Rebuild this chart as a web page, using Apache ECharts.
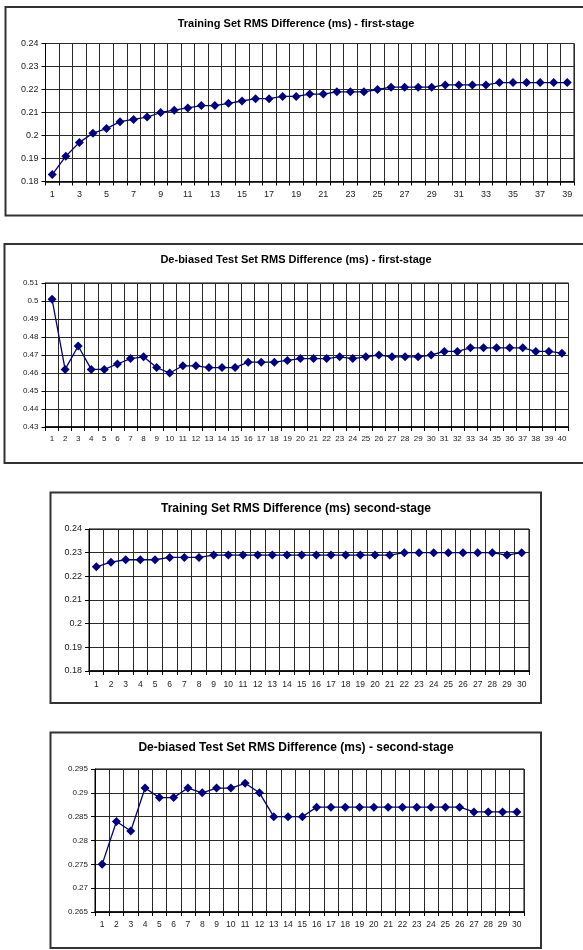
<!DOCTYPE html>
<html><head><meta charset="utf-8">
<script src="https://cdn.jsdelivr.net/npm/echarts@6/dist/echarts.min.js"></script>
<style>html,body{margin:0;padding:0;background:#fff}#c{width:583px;height:950px}</style>
</head><body><div id="c"></div>
<script>
// ---- Data ----
const title1 = 'Training Set RMS Difference (ms) - first-stage';
const title2 = 'De-biased Test Set RMS Difference (ms) - first-stage';
const title3 = 'Training Set RMS Difference (ms) second-stage';
const title4 = 'De-biased Test Set RMS Difference (ms) - second-stage';

const cats39 = ['1','2','3','4','5','6','7','8','9','10','11','12','13','14','15','16','17','18','19','20','21','22','23','24','25','26','27','28','29','30','31','32','33','34','35','36','37','38','39'];
const cats40 = ['1','2','3','4','5','6','7','8','9','10','11','12','13','14','15','16','17','18','19','20','21','22','23','24','25','26','27','28','29','30','31','32','33','34','35','36','37','38','39','40'];
const cats30 = ['1','2','3','4','5','6','7','8','9','10','11','12','13','14','15','16','17','18','19','20','21','22','23','24','25','26','27','28','29','30'];

const trainFirst = [0.183,0.191,0.197,0.201,0.203,0.206,0.207,0.208,0.210,0.211,
  0.212,0.213,0.213,0.214,0.215,0.216,0.216,0.217,0.217,0.218,
  0.218,0.219,0.219,0.219,0.220,0.221,0.221,0.221,0.221,0.222,
  0.222,0.222,0.222,0.223,0.223,0.223,0.223,0.223,0.223];
const testFirst = [0.501,0.462,0.475,0.462,0.462,0.465,0.468,0.469,0.463,0.460,
  0.464,0.464,0.463,0.463,0.463,0.466,0.466,0.466,0.467,0.468,
  0.468,0.468,0.469,0.468,0.469,0.470,0.469,0.469,0.469,0.470,
  0.472,0.472,0.474,0.474,0.474,0.474,0.474,0.472,0.472,0.471];
const trainSecond = [0.224,0.226,0.227,0.227,0.227,0.228,0.228,0.228,0.229,0.229,
  0.229,0.229,0.229,0.229,0.229,0.229,0.229,0.229,0.229,0.229,
  0.229,0.230,0.230,0.230,0.230,0.230,0.230,0.230,0.229,0.230];
const testSecond = [0.275,0.284,0.282,0.291,0.289,0.289,0.291,0.290,0.291,0.291,
  0.292,0.290,0.285,0.285,0.285,0.287,0.287,0.287,0.287,0.287,
  0.287,0.287,0.287,0.287,0.287,0.287,0.286,0.286,0.286,0.286];

// y-axis ranges: [min, max, interval]
const yRange1 = [0.18, 0.24, 0.01];
const yRange2 = [0.43, 0.51, 0.01];
const yRange3 = [0.18, 0.24, 0.01];
const yRange4 = [0.265, 0.295, 0.005];

// ---- Layout ----
const FONT = '"Liberation Sans", Arial, sans-serif';
const panels = [
  {title: title1, cats: cats39, data: trainFirst, y: yRange1,
   frame: [5.5, 7, 590, 208.5], titleY: 18.5, grid: {left: 45.5, top: 43.5, width: 528.5, height: 138},
   xLabelInterval: 1, xFont: 9, yFont: 9, titleFont: 11, xMargin: 9},
  {title: title2, cats: cats40, data: testFirst, y: yRange2,
   frame: [4.5, 244, 590, 219], titleY: 254.5, grid: {left: 45.5, top: 283, width: 523, height: 144},
   xLabelInterval: 0, xFont: 8, yFont: 8, titleFont: 11, xMargin: 8},
  {title: title3, cats: cats30, data: trainSecond, y: yRange3,
   frame: [50.5, 492.5, 490.5, 210.5], titleY: 502.5, grid: {left: 89, top: 529, width: 440, height: 142},
   xLabelInterval: 0, xFont: 8.5, yFont: 9, titleFont: 12, xMargin: 9},
  {title: title4, cats: cats30, data: testSecond, y: yRange4,
   frame: [50.5, 732.5, 490.5, 215.5], titleY: 741.5, grid: {left: 95, top: 769, width: 429, height: 143},
   xLabelInterval: 0, xFont: 8.5, yFont: 8, titleFont: 12, xMargin: 8}
];

const fmt = v => String(parseFloat(Number(v).toFixed(4)));

const option = {
  backgroundColor: '#fff',
  animation: false,
  title: panels.map(p => ({
    text: p.title, left: 296, top: p.titleY, padding: 0,
    textAlign: 'center', textVerticalAlign: 'top',
    textStyle: {fontFamily: FONT, fontWeight: 'bold', fontSize: p.titleFont, color: '#000'}
  })),
  graphic: panels.map(p => ({
    type: 'rect', silent: true, z: -1,
    shape: {x: p.frame[0], y: p.frame[1], width: p.frame[2], height: p.frame[3]},
    style: {fill: '#fff', stroke: '#333', lineWidth: 2}
  })),
  grid: panels.map(p => Object.assign({show: true, borderColor: '#000', borderWidth: 1, backgroundColor: '#fff', containLabel: false}, p.grid)),
  xAxis: panels.map((p, i) => ({
    type: 'category', gridIndex: i, data: p.cats, boundaryGap: true,
    axisLine: {lineStyle: {color: '#000', width: 1.5}},
    axisTick: {show: true, interval: 0, length: 4, lineStyle: {color: '#000'}},
    splitLine: {show: true, interval: 0, lineStyle: {color: '#2a2a2a', width: 1}},
    axisLabel: {interval: p.xLabelInterval, fontFamily: FONT, fontSize: p.xFont, color: '#222', margin: p.xMargin}
  })),
  yAxis: panels.map((p, i) => ({
    type: 'value', gridIndex: i, min: p.y[0], max: p.y[1], interval: p.y[2],
    axisLine: {show: true, lineStyle: {color: '#000', width: 1}},
    axisTick: {show: true, length: 4, lineStyle: {color: '#000'}},
    splitLine: {show: true, lineStyle: {color: '#2a2a2a', width: 1}},
    axisLabel: {formatter: fmt, fontFamily: FONT, fontSize: p.yFont, color: '#222', margin: 7}
  })),
  series: panels.map((p, i) => ({
    type: 'line', xAxisIndex: i, yAxisIndex: i, data: p.data,
    symbol: 'diamond', symbolSize: 9, showAllSymbol: true,
    lineStyle: {color: '#000080', width: 1.3},
    itemStyle: {color: '#000080', borderWidth: 0}
  }))
};

const chart = echarts.init(document.getElementById('c'), null, {renderer: 'canvas'});
chart.setOption(option);
</script>
</body></html>
